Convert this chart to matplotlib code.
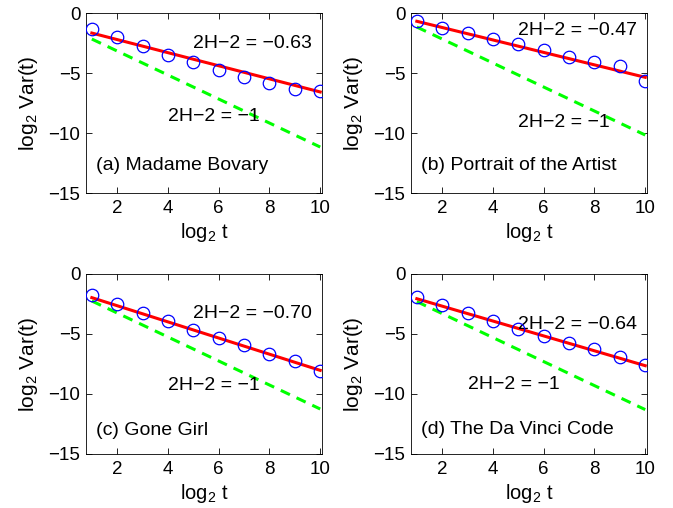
import matplotlib
matplotlib.use("Agg")
import matplotlib.pyplot as plt
import numpy as np

plt.rcParams['font.family'] = ['Liberation Sans', 'DejaVu Sans']
plt.rcParams['mathtext.fontset'] = 'custom'
plt.rcParams['mathtext.rm'] = 'Liberation Sans'
plt.rcParams['mathtext.default'] = 'regular'
plt.rcParams['axes.unicode_minus'] = True

log2_t = [1, 2, 3, 4, 5, 6, 7, 8, 9, 10]

var_a = [-1.31, -2.00, -2.78, -3.47, -4.06, -4.75, -5.31, -5.86, -6.33, -6.50]
var_b = [-0.69, -1.25, -1.67, -2.17, -2.56, -3.11, -3.67, -4.08, -4.39, -5.67]
var_c = [-1.75, -2.47, -3.25, -3.92, -4.64, -5.31, -5.92, -6.64, -7.22, -8.08]
var_d = [-1.89, -2.61, -3.25, -3.89, -4.56, -5.19, -5.78, -6.22, -6.92, -7.58]

# fit line endpoints (at log2 t = 1 and 10)
fit_a = [-1.67, -6.58]
fit_b = [-0.69, -5.36]
fit_c = [-1.97, -8.03]
fit_d = [-2.06, -7.64]

# reference slope -1 line endpoints
ref_a = [-2.17, -11.17]
ref_b = [-1.17, -10.17]
ref_c = [-2.25, -11.25]
ref_d = [-2.30, -11.30]

fit_labels = ["2H\u22122 = \u22120.63", "2H\u22122 = \u22120.47",
              "2H\u22122 = \u22120.70", "2H\u22122 = \u22120.64"]
ref_label = "2H\u22122 = \u22121"
titles = ["(a) Madame Bovary", "(b) Portrait of the Artist",
          "(c) Gone Girl", "(d) The Da Vinci Code"]

fit_pos = [(5.0, -2.5), (5.0, -1.45), (5.0, -3.25), (5.0, -4.2)]
ref_pos = [(4.0, -8.6), (5.0, -9.1), (4.0, -9.25), (3.0, -9.2)]
title_pos = [(1.15, -12.7), (1.15, -12.7), (1.15, -13.05), (1.15, -12.95)]

data = [var_a, var_b, var_c, var_d]
fits = [fit_a, fit_b, fit_c, fit_d]
refs = [ref_a, ref_b, ref_c, ref_d]

fig = plt.figure(figsize=(6.73, 5.08), dpi=100)
W, H = 673, 508
boxes = [(86, 13), (411, 13), (86, 274), (411, 274)]
aw, ah = 236, 180

for i in range(4):
    lx, ty = boxes[i]
    ax = fig.add_axes([lx / W, 1 - (ty + ah) / H, aw / W, ah / H])
    ends = [log2_t[0], log2_t[-1]]
    ax.plot(ends, refs[i], '--', color='#00ff00', lw=2.2, dashes=(3.3, 2.4), zorder=2)
    ax.plot(ends, fits[i], '-', color='#ff0000', lw=2.2, zorder=3)
    ax.plot(log2_t, data[i], 'o', mfc='none', mec='#0000ff', ms=9, mew=0.9, zorder=4)
    ax.set_xlim(0.77, 10.07)
    ax.set_ylim(-15, 0)
    ax.set_xticks([2, 4, 6, 8, 10])
    ax.set_yticks([-15, -10, -5, 0])
    ax.tick_params(direction='in', top=True, right=True, labelsize=13.5, length=4, width=0.6)
    ax.tick_params(axis='x', pad=5)
    ax.tick_params(axis='y', pad=4)
    for s in ax.spines.values():
        s.set_linewidth(0.6)
    ax.set_xlabel('log$_2$ t', fontsize=14.5, labelpad=3)
    ax.set_ylabel('log$_2$ Var(t)', fontsize=15, labelpad=6)
    ax.text(*fit_pos[i], fit_labels[i], fontsize=14, va='center', ha='left')
    ax.text(*ref_pos[i], ref_label, fontsize=14, va='center', ha='left')
    ax.text(*title_pos[i], titles[i], fontsize=14, va='center', ha='left')

fig.savefig('out.png', dpi=100)
